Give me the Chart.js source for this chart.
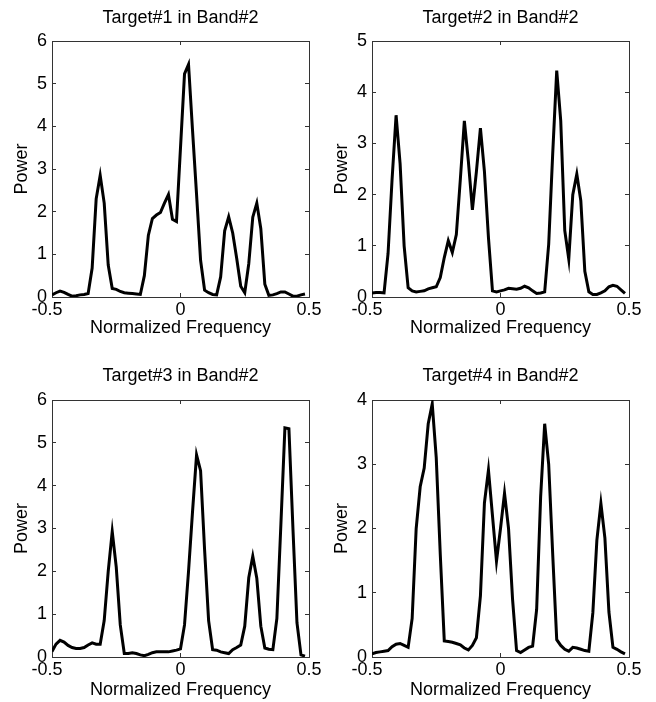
<!DOCTYPE html>
<html><head><meta charset="utf-8">
<script src="https://cdn.jsdelivr.net/npm/chart.js@4.4.0/dist/chart.umd.min.js"></script>
<style>
html,body{margin:0;padding:0;background:#fff;}
#wrap{position:relative;width:656px;height:702px;background:#fff;overflow:hidden;}
canvas{position:absolute;}
</style></head><body>
<div id="wrap">
<canvas id="c1" width="328" height="351" style="left:0px;top:0px"></canvas>
<canvas id="c2" width="336" height="351" style="left:320px;top:0px"></canvas>
<canvas id="c3" width="328" height="351" style="left:0px;top:351px"></canvas>
<canvas id="c4" width="336" height="351" style="left:320px;top:351px"></canvas>
</div>
<script>
// Frequency bins (normalized frequency grid)
const freq = Array.from({length: 64}, (_, i) => -0.5 + i / 64);

const titles = ['Target#1 in Band#2', 'Target#2 in Band#2', 'Target#3 in Band#2', 'Target#4 in Band#2'];
const xLabel = 'Normalized Frequency';
const yLabel = 'Power';
const xTicks = [-0.5, 0, 0.5];
const yMaxes = [6, 5, 6, 4];

const target1 = [0.05,0.1,0.14,0.11,0.06,0.02,0.03,0.05,0.06,0.08,
  0.68,2.3,2.85,2.2,0.75,0.2,0.18,0.13,0.1,0.09,
  0.08,0.07,0.06,0.5,1.45,1.84,1.92,1.98,2.2,2.4,
  1.82,1.77,3.5,5.23,5.45,3.9,2.4,0.86,0.16,0.1,
  0.06,0.05,0.47,1.55,1.88,1.5,0.9,0.25,0.1,0.78,
  1.87,2.2,1.6,0.3,0.04,0.05,0.08,0.12,0.12,0.07,
  0.02,0.02,0.05,0.07];
const target2 = [0.08,0.09,0.09,0.08,0.85,2.3,3.55,2.6,1.0,0.18,
  0.12,0.1,0.11,0.12,0.16,0.18,0.2,0.38,0.77,1.1,
  0.87,1.22,2.3,3.44,2.65,1.7,2.45,3.3,2.45,1.16,
  0.12,0.1,0.12,0.14,0.17,0.16,0.15,0.17,0.21,0.18,
  0.12,0.07,0.08,0.1,1.03,2.8,4.42,3.44,1.3,0.74,
  2.0,2.4,1.88,0.5,0.1,0.05,0.05,0.08,0.12,0.2,
  0.23,0.21,0.14,0.07];
const target3 = [0.13,0.3,0.39,0.35,0.27,0.22,0.2,0.2,0.22,0.28,
  0.33,0.3,0.3,0.85,2.0,2.93,2.1,0.75,0.08,0.08,
  0.1,0.08,0.05,0.03,0.06,0.1,0.12,0.12,0.12,0.12,
  0.14,0.16,0.19,0.75,2.0,3.4,4.72,4.35,2.5,0.85,
  0.17,0.16,0.12,0.1,0.08,0.17,0.22,0.28,0.72,1.85,
  2.35,1.84,0.72,0.21,0.18,0.17,0.9,3.1,5.35,5.33,
  3.0,0.8,0.05,0.02];
const target4 = [0.05,0.07,0.08,0.09,0.1,0.16,0.2,0.21,0.18,0.15,
  0.6,2.0,2.65,2.94,3.63,3.94,3.1,1.6,0.25,0.24,
  0.23,0.21,0.19,0.14,0.11,0.18,0.3,0.95,2.4,2.91,
  2.2,1.49,2.0,2.55,2.0,0.9,0.1,0.07,0.11,0.15,
  0.17,0.74,2.5,3.63,3.0,1.6,0.27,0.18,0.12,0.09,
  0.15,0.14,0.12,0.1,0.09,0.69,1.82,2.39,1.85,0.7,
  0.15,0.12,0.08,0.05];

const FONT = "'Liberation Sans', Arial, Helvetica, sans-serif";
const TXT = '#000';
const AX = '#333';

function makeChart(id, title, values, yMax, g) {
  const font = {family: FONT, size: 18, weight: 'normal'};
  const gridOpts = {display: true, drawOnChartArea: false, drawTicks: true, tickLength: -4, color: AX, lineWidth: 1};
  const borderOpts = {display: true, color: AX, width: 1};
  return new Chart(document.getElementById(id), {
    type: 'line',
    data: {
      datasets: [{
        data: freq.map((f, i) => ({x: f, y: values[i]})),
        borderColor: '#000', borderWidth: 3, pointRadius: 0, tension: 0, fill: false
      }]
    },
    options: {
      responsive: false, animation: false, events: [],
      layout: {padding: {left: 0, top: 0, right: g.padRight, bottom: 0}},
      plugins: {
        legend: {display: false}, tooltip: {enabled: false},
        title: {display: true, text: title, fullSize: false, color: TXT, font: font,
                padding: {top: g.titleTop, bottom: g.titleBottom}}
      },
      scales: {
        x: {type: 'linear', position: 'bottom', min: xTicks[0], max: xTicks[xTicks.length - 1],
            afterBuildTicks: s => { s.ticks = xTicks.map(v => ({value: v})); },
            ticks: {color: TXT, font: font, padding: g.xTickPad, maxRotation: 0, autoSkip: false,
                    callback: v => (v < 0 ? String(v) + '  ' : String(v))},
            grid: gridOpts, border: borderOpts,
            title: {display: true, text: xLabel, color: TXT, font: font, padding: {top: 0, bottom: g.xTitleBottom}},
            afterFit: s => { s.height = g.xHeight; }},
        x2: {type: 'linear', axis: 'x', position: 'top', min: xTicks[0], max: xTicks[xTicks.length - 1],
            afterBuildTicks: s => { s.ticks = xTicks.map(v => ({value: v})); },
            ticks: {display: false}, grid: gridOpts, border: borderOpts,
            afterFit: s => { s.height = 0; }},
        y: {type: 'linear', position: 'left', min: 0, max: yMax,
            ticks: {stepSize: 1, color: TXT, font: font, padding: 9},
            grid: gridOpts, border: borderOpts,
            title: {display: true, text: yLabel, color: TXT, font: font, padding: {top: 11, bottom: 0}},
            afterFit: s => { s.width = 52; }},
        y2: {type: 'linear', axis: 'y', position: 'right', min: 0, max: yMax,
            ticks: {display: false, stepSize: 1}, grid: gridOpts, border: borderOpts,
            afterFit: s => { s.width = 0; }}
      }
    }
  });
}

const topRow = {titleTop: 7.2, titleBottom: 12.2, xHeight: 54, xTickPad: 6, xTitleBottom: 12.5};
const botRow = {titleTop: 14.2, titleBottom: 13.2, xHeight: 45, xTickPad: 6, xTitleBottom: 1.0};

makeChart('c1', titles[0], target1, yMaxes[0], Object.assign({padRight: 19}, topRow));
makeChart('c2', titles[1], target2, yMaxes[1], Object.assign({padRight: 27}, topRow));
makeChart('c3', titles[2], target3, yMaxes[2], Object.assign({padRight: 19}, botRow));
makeChart('c4', titles[3], target4, yMaxes[3], Object.assign({padRight: 27}, botRow));
</script>
</body></html>
